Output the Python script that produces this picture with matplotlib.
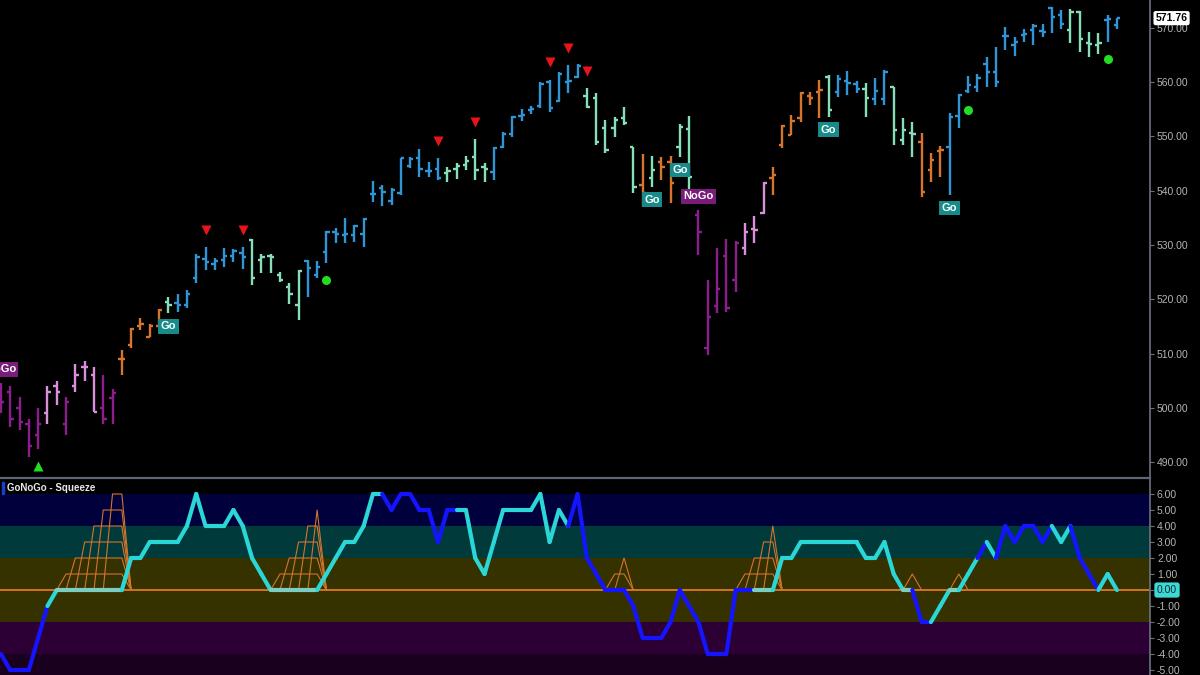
import numpy as np
import matplotlib
matplotlib.use("Agg")
import matplotlib.pyplot as plt
from matplotlib.collections import LineCollection

# ---------------- data ----------------
opens = [502, 503, 500, 497, 495, 499, 504, 497, 504, 507.5, 506, 500, 501.8,
         509, 511.5, 515, 513, 515, 519.5, 519.3, 519, 524, 527.5, 526.5, 527.3,
         528, 528.5, 531, 527.2, 528, 524.5, 522.2, 519, 527, 524.5, 528.7, 532.3,
         531.9, 531.9, 532, 539.3, 540.5, 538.1, 539.5, 544.5, 546, 543.6, 543.9,
         543.3, 544, 544.8, 546.2, 544.4, 543.5, 548, 550.5, 553.8, 554.8, 555.5,
         560, 556.5, 560, 561, 557.5, 557, 551.5, 551.6, 553.3, 548, 541, 542.3,
         545.2, 545.3, 548, 551.3, 535.5, 511, 518.7, 528, 523.5, 529.4, 533, 535.8,
         542.3, 548.4, 550.3, 553.4, 557.4, 558.2, 560.9, 558.2, 560.2, 559.6,
         558.8, 556.9, 556.9, 559, 549.3, 550.6, 549, 543.8, 547.3, 548, 553.7,
         558.3, 559, 563.3, 561.8, 568.4, 566.9, 568.7, 569.6, 569.4, 573.6, 572.3,
         569.6, 572.9, 567.2, 566.8, 571.4, 570.5]
highs = [504.5, 504, 502, 498, 500, 504, 505, 502, 508, 508.6, 507.5, 506, 503.4,
         510.6, 514.8, 516.5, 515.5, 518.3, 520.5, 521, 521.7, 528.3, 529.6, 527.6,
         529.4, 529.2, 529.6, 531.1, 528.3, 528.3, 525, 523, 525.4, 527.2, 527,
         532.6, 533.1, 535, 533.7, 535, 541.8, 541, 540.5, 546, 546.2, 547.7, 545.3,
         546, 544.4, 545.1, 546.4, 549.5, 545.1, 548, 550.8, 553.7, 555, 555.6, 560,
         560.4, 561.8, 563.1, 563.3, 558.9, 558, 553, 553.5, 555.4, 548, 546.7,
         546.4, 546.2, 546.4, 552.3, 553.7, 536.4, 523.5, 529.4, 531.1, 530.7, 534,
         535.3, 541.6, 544.4, 552.1, 553.9, 558.2, 558.2, 560.4, 561.3, 561.3, 562,
         560.2, 559.8, 560.7, 562.2, 559.1, 553.4, 552.6, 550.6, 546.9, 548.2, 554.3,
         557.8, 561.1, 561.5, 564.6, 566.4, 570.1, 568.3, 569.8, 570.7, 570.7, 573.8,
         573.3, 573.4, 573, 569.2, 569, 572.3, 571.8]
lows = [499, 496.5, 496, 491, 492.5, 497, 500.5, 495, 503, 505, 499.2, 497, 497,
        506, 511, 514.3, 513, 514.9, 517.4, 517.6, 518.4, 523, 525.4, 525.4, 526,
        526.8, 525.6, 522.6, 524.8, 524.8, 523.2, 519.1, 516.2, 520.4, 523.9, 526.7,
        530.4, 530.4, 530.6, 529.6, 537.9, 537.2, 537.3, 539.2, 544.2, 542.5, 542.5,
        542, 541.6, 542.1, 543.8, 541.9, 541.6, 542, 547.8, 549.9, 552.8, 554.1,
        555.2, 554.5, 556.3, 558, 560.7, 555.2, 548.4, 546.9, 549.9, 552.1, 539.6,
        536.9, 540.7, 542, 537.7, 546.2, 540, 528.1, 509.7, 517.5, 517.6, 521.3,
        528.1, 530.4, 535.7, 539.2, 547.8, 550.2, 552.6, 555.8, 553.4, 553.6, 557.2,
        557.6, 558, 553.6, 555.8, 555.8, 548.4, 548.4, 546.2, 538.8, 541.6, 542.5,
        539.2, 551.5, 558, 558.2, 559.1, 559.1, 565.9, 564.8, 567.4, 566.8, 568.3,
        569, 569.8, 567.2, 565.5, 564.6, 565.2, 567.4, 569.8]
closes = [501, 498, 497.5, 493, 497, 503, 503, 501, 506, 507.5, 499.3, 498, 502.7,
          509, 514.5, 515.5, 515, 518, 519, 519, 521, 527.8, 526.8, 527, 527.9,
          528.8, 527.8, 524, 527.8, 527.8, 523.5, 521, 525.2, 525.7, 526, 532.4,
          532.1, 532, 533.5, 534.8, 539.4, 539.8, 540.2, 546, 545.8, 543.9, 543.6,
          542.3, 543.6, 544.6, 545.5, 543.8, 543.9, 547.8, 550.5, 553.5, 554, 555,
          559.7, 555.3, 561.5, 560.2, 563, 555.4, 549, 547.5, 553, 552.5, 540.7,
          539.5, 543.8, 544.4, 541.4, 551.8, 542.5, 532.4, 516.7, 521.9, 518.4,
          530.3, 532.4, 532.7, 541.4, 542.9, 551.9, 552.8, 558, 557.1, 558.6, 554.8,
          560.5, 559.8, 558.8, 557, 558.4, 561.8, 551.2, 551.2, 550.4, 539.7, 545.6,
          547.4, 553.6, 557.6, 559.4, 560.7, 561.8, 560, 568.4, 567.3, 568.9, 570.3,
          569.2, 572, 570.6, 572.9, 567.9, 567, 567.2, 571.6, 571.76]
# bar colour class: P nogo, K weak nogo, O neutral, M weak go, B go
bar_class = ("PPPPPKKPKKKPP" "OOOOOM" "BBBBBBBB" "MMMMMM" "BBBBBBBBBBBBBBB"
             "MMMMM" "BBBBBBBBBB" "MMMMMM" "OMOOMM" "PPPPPKKK" "OOOOOO"
             "MBBBMBBMMMOOO" "BBBBBBBBBBBBB" "MMMMBB")

osc = [-4, -5, -5, -5, -3, -1, 0, 0, 0, 0, 0, 0, 0, 0, 2, 2, 3, 3, 3, 3, 4, 6,
       4, 4, 4, 5, 4, 2, 1, 0, 0, 0, 0, 0, 0, 1, 2, 3, 3, 4, 6, 6, 5, 6, 6, 5, 5,
       3, 5, 5, 5, 2, 1, 3, 5, 5, 5, 5, 6, 3, 5, 4, 6, 2, 1, 0, 0, 0, -1, -3, -3,
       -3, -2, 0, -1, -2, -4, -4, -4, 0, 0, 0, 0, 0, 2, 2, 3, 3, 3, 3, 3, 3, 3, 2,
       2, 3, 1, 0, 0, -2, -2, -1, 0, 0, 1, 2, 3, 2, 4, 3, 4, 4, 3, 4, 3, 4, 2, 1,
       0, 1, 0]
osc_class = ("BBBBBB" "C" "ZZZZZZZ" "CCCCCCCCCCCCCCCC" "ZZZZZ" "CCCCCCC"
             "BBBBBBBB" "CCCCCCCCCCCC" "BBBBBBBBBBBBBBBBBBBB" "ZZ"
             "CCCCCCCCCCCCCC" "Z" "BB" "CC" "Z" "CC" "B" "C" "BBBBBB" "CC"
             "BBB" "CC")

# squeeze ladders: (start bar, values)
squeeze_runs = [(6, [0, 1, 2, 3, 4, 5, 6, 6, 0]),
                (29, [0, 1, 2, 3, 4, 5, 0]),
                (65, [0, 1, 2, 0]),
                (79, [0, 1, 2, 3, 4, 0]),
                (97, [0, 1, 0]),
                (102, [0, 1, 0])]

red_down_idx = [22, 26, 47, 51, 59, 61, 63]
green_up_idx = [4]
green_dot_idx = [35, 104, 119]
go_idx = [18, 70, 73, 89, 102]
nogo_idx = [0, 75]

price_ticks = [490, 500, 510, 520, 530, 540, 550, 560, 570]
osc_ticks = [6, 5, 4, 3, 2, 1, 0, -1, -2, -3, -4, -5]
last_price = 571.76

# ---------------- style ----------------
BAR_COL = {"P": "#8e1e8e", "K": "#d98fd9", "O": "#d8742c",
           "M": "#86dfb6", "B": "#2f95d6"}
OSC_COL = {"B": "#1414ff", "C": "#2ad6d6", "Z": "#7ccfc0"}
TXT = "#b4b4b4"
FONT = "Liberation Sans"

W, H = 1200, 675
fig = plt.figure(figsize=(12, 6.75), dpi=100, facecolor="black")
sep_y = 478
axw = 1150 / W
ax = fig.add_axes([0, (H - sep_y) / H, axw, sep_y / H], facecolor="black")
ax2 = fig.add_axes([0, 0, axw, (H - sep_y) / H], facecolor="black")

n = len(closes)
xr = 1150 / 9.3 - 0.1
for a in (ax, ax2):
    a.set_xlim(-0.1, xr)
    for s in ("top", "left", "bottom"):
        a.spines[s].set_visible(False)
    a.spines["right"].set_color("#6d7282")
    a.spines["right"].set_linewidth(1.2)
    a.tick_params(axis="x", bottom=False, labelbottom=False)
    a.yaxis.tick_right()
    a.tick_params(axis="y", colors="#6d7282", labelcolor=TXT, length=3,
                  width=0.8, pad=2, labelsize=7.5)

# ---------- price panel ----------
ax.set_ylim(487.1, 575.1)
segs, cols = [], []
tl = 0.36
for i in range(n):
    c = BAR_COL[bar_class[i]]
    segs += [[(i, lows[i]), (i, highs[i])],
             [(i - tl, opens[i]), (i, opens[i])],
             [(i, closes[i]), (i + tl, closes[i])]]
    cols += [c, c, c]
ax.add_collection(LineCollection(segs, colors=cols, linewidths=1.7,
                                 capstyle="butt"))

off = 3.2
ax.plot(red_down_idx, [highs[i] + off for i in red_down_idx],
        "v", color="#e8141a", ms=7, mec="none")
ax.plot(green_up_idx, [lows[i] - off for i in green_up_idx],
        "^", color="#22dd22", ms=7, mec="none")
ax.plot(green_dot_idx, [lows[i] - off for i in green_dot_idx],
        "o", color="#22dd22", ms=6.5, mec="none")

for i in go_idx:
    ax.text(i, lows[i] - 2.4, "Go", color="white", fontsize=8,
            fontweight="bold", family=FONT, ha="center", va="center",
            bbox=dict(boxstyle="square,pad=0.22", fc="#178a8a", ec="none"))
for i in nogo_idx:
    ax.text(i, highs[i] + 2.6, "NoGo", color="white", fontsize=8,
            fontweight="bold", family=FONT, ha="center", va="center",
            bbox=dict(boxstyle="square,pad=0.22", fc="#7a1d7a", ec="none"),
            clip_on=False)

ax.set_yticks(price_ticks)
ax.set_yticklabels([f"{t:.2f}" for t in price_ticks], family=FONT)
ax.annotate(f"{last_price:.2f}", xy=(1.0, last_price),
            xycoords=("axes fraction", "data"), xytext=(4, 0),
            textcoords="offset points", color="black", fontsize=7.5,
            fontweight="bold", family=FONT, ha="left", va="center",
            bbox=dict(boxstyle="round,pad=0.2", fc="white", ec="none"),
            annotation_clip=False)

# ---------- oscillator panel ----------
ax2.set_ylim(-5.31, 7.0)
bands = [(4, 6, "#00003c"), (2, 4, "#013a3b"), (-2, 2, "#363200"),
         (-4, -2, "#2c0035"), (-6, -4, "#1a001f")]
for lo, hi, c in bands:
    ax2.axhspan(lo, hi, color=c, lw=0, zorder=0)
ax2.axhline(0, color="#e07a22", lw=1.3, zorder=1)

# squeeze ladders: one trapezoid per level
sq_col = "#d2752c"
for start, vals in squeeze_runs:
    pv = np.array(vals, dtype=float)
    for k in range(1, int(pv.max()) + 1):
        idx = np.nonzero(pv >= k)[0]
        a, b = start + idx[0], start + idx[-1]
        ax2.plot([a - 1, a, b, b + 1], [0, k, k, 0], color=sq_col, lw=0.8,
                 zorder=2)

osegs, ocols = [], []
for i in range(1, n):
    osegs.append([(i - 1, osc[i - 1]), (i, osc[i])])
    ocols.append(OSC_COL[osc_class[i]])
ax2.add_collection(LineCollection(osegs, colors=ocols, linewidths=3.0,
                                  capstyle="round", joinstyle="round",
                                  zorder=3))

ax2.set_yticks(osc_ticks)
ax2.set_yticklabels(["" if t == 0 else f"{t:.2f}" for t in osc_ticks],
                    family=FONT)
ax2.annotate("0.00", xy=(1.0, 0), xycoords=("axes fraction", "data"),
             xytext=(5, 0), textcoords="offset points", color="#0b2a2a",
             fontsize=7.5, family=FONT, ha="left", va="center",
             bbox=dict(boxstyle="round,pad=0.25", fc="#3fd6d6", ec="none"),
             annotation_clip=False)

# separator and title
fig.add_artist(plt.Line2D([0, axw], [(H - sep_y) / H] * 2, color="#5f6676",
                          lw=1.6, transform=fig.transFigure))
fig.add_artist(plt.Rectangle((2 / W, 1 - 494 / H), 2 / W, 12 / H,
                             color="#1f3cd0", transform=fig.transFigure))
fig.text(7 / W, 1 - 488 / H, "GoNoGo - Squeeze", color="#e8e8e8",
         fontsize=7, fontweight="bold", family=FONT, va="center", ha="left")

fig.savefig("out.png", dpi=100, facecolor="black")
